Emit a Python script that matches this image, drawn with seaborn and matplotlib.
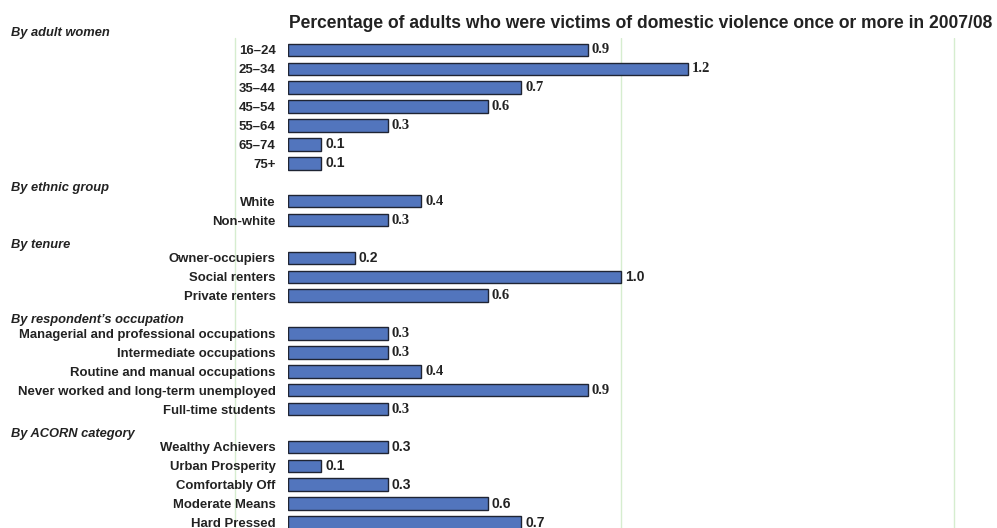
import matplotlib
matplotlib.use("Agg")
import matplotlib.pyplot as plt
import matplotlib.transforms as mtransforms
from matplotlib.lines import Line2D
import pandas as pd
import seaborn as sns

# Group headings and their rows
group_titles = ["By adult women", "By ethnic group", "By tenure",
                "By respondent\u2019s occupation", "By ACORN category"]

age_labels = ["16\u201324", "25\u201334", "35\u201344", "45\u201354", "55\u201364", "65\u201374", "75+"]
age_values = [0.9, 1.2, 0.7, 0.6, 0.3, 0.1, 0.1]

ethnic_labels = ["White", "Non-white"]
ethnic_values = [0.4, 0.3]

tenure_labels = ["Owner-occupiers", "Social renters", "Private renters"]
tenure_values = [0.2, 1.0, 0.6]

occupation_labels = ["Managerial and professional occupations", "Intermediate occupations",
                     "Routine and manual occupations", "Never worked and long-term unemployed",
                     "Full-time students"]
occupation_values = [0.3, 0.3, 0.4, 0.9, 0.3]

acorn_labels = ["Wealthy Achievers", "Urban Prosperity", "Comfortably Off",
                "Moderate Means", "Hard Pressed"]
acorn_values = [0.3, 0.1, 0.3, 0.6, 0.7]

# value labels set in the sans face; the rest use the serif face
sans_value_rows = {"65\u201374", "75+", "Owner-occupiers", "Social renters",
                   "Wealthy Achievers", "Urban Prosperity", "Comfortably Off",
                   "Moderate Means", "Hard Pressed"}

title = "Percentage of adults who were victims of domestic violence once or more in 2007/08"

groups = [(age_labels, age_values), (ethnic_labels, ethnic_values),
          (tenure_labels, tenure_values), (occupation_labels, occupation_values),
          (acorn_labels, acorn_values)]

# Build the category order: every group after the first gets an empty slot for its heading
order = []
rows = []
first_rows = []
for g, (labels, values) in enumerate(groups):
    if g > 0:
        order.append(f"__heading_{g}")
    first_rows.append(len(order))
    for lab, val in zip(labels, values):
        order.append(lab)
        rows.append({"category": lab, "value": val})
df = pd.DataFrame(rows)

sns.set_style("white")
plt.rcParams["font.family"] = ["Liberation Sans", "DejaVu Sans"]

W, H = 997, 528
fig = plt.figure(figsize=(W / 100, H / 100), dpi=100)
ax = fig.add_axes([288 / W, 0, (W - 288) / W, 490 / H])

sns.barplot(data=df, x="value", y="category", order=order, orient="h",
            color="#5275bd", edgecolor="#1f2433", linewidth=1.0,
            width=0.66, saturation=1, ax=ax, zorder=3)

ax.set_xlim(0, (W - 288) / 333)
ax.set_ylim(25.29, -0.63)
ax.set_xlabel("")
ax.set_ylabel("")
for s in ax.spines.values():
    s.set_visible(False)

# light vertical gridlines
ax.set_xticks([1.0, 2.0])
ax.set_xticklabels([])
ax.tick_params(axis="x", length=0)
ax.grid(axis="x", color="#d6edcf", linewidth=1.0, zorder=0)
ax.grid(axis="y", visible=False)
fig.add_artist(Line2D([235 / W, 235 / W], [0, 490 / H], color="#d6edcf",
                      linewidth=1.0, transform=fig.transFigure, zorder=0))

# category tick labels
ax.set_yticks(range(len(order)))
ax.set_yticklabels(["" if c.startswith("__heading_") else c for c in order],
                   fontsize=9.45, fontweight="bold", color="#222222")
ax.tick_params(axis="y", length=0, pad=9)

# group headings, left-aligned at the figure edge
trans = mtransforms.blended_transform_factory(fig.transFigure, ax.transData)
for g, t in enumerate(group_titles):
    offset = 0.9 if g == 0 else 0.7
    ax.text(11 / W, first_rows[g] - offset, t, transform=trans, ha="left", va="center",
            fontsize=9.3, fontweight="bold", fontstyle="italic", color="#222222",
            clip_on=False)

# value labels at the end of each bar
for _, r in df.iterrows():
    y = order.index(r["category"])
    if r["category"] in sans_value_rows:
        fam, size = ["Liberation Sans"], 10
    else:
        fam, size = ["Liberation Serif"], 10.5
    ax.text(r["value"] + 0.012, y, f"{r['value']:.1f}", ha="left", va="center",
            fontsize=size, fontweight="bold", family=fam, color="#222222", clip_on=False)

fig.text(289 / W, 1 - 23 / H, title, ha="left", va="center",
         fontsize=12.65, fontweight="bold", color="#222222")

fig.savefig("out.png", dpi=100)
